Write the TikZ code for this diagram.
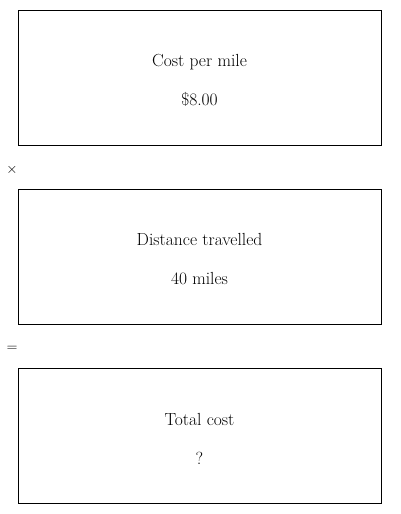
\documentclass[tikz,border=0pt]{standalone}
\usepackage{amsmath,amssymb}
\usepackage{tikz}

\newcommand{\toppad}{\rule{0pt}{18pt}}

\begin{document}
\begin{tikzpicture}[x=1pt,y=-1pt]
    \useasboundingbox (0,0) rectangle (400,514);

    \begin{scope}
    \tikzstyle{every node}=[draw, minimum width=363pt, minimum height=135pt, inner sep=0pt, font=\fontsize{17.5}{20}\selectfont, align=center]
    \node (cost) at (199.5, 77.5) {\toppad Cost per mile\\[19pt]\$8.00};
    \node (dist) at (199.5, 256.5) {\toppad Distance travelled\\[19pt]40 miles};
    \node (total) at (199.5, 435.5) {\toppad Total cost\\[19pt]?};
    \end{scope}

    \begin{scope}
    \tikzstyle{every node}=[font=\fontsize{14}{16}\selectfont]
    \node (times) at (12, 170) {$\times$};
    \node (equals) at (12, 349) {$=$};
    \end{scope}

  \end{tikzpicture}
\end{document}
